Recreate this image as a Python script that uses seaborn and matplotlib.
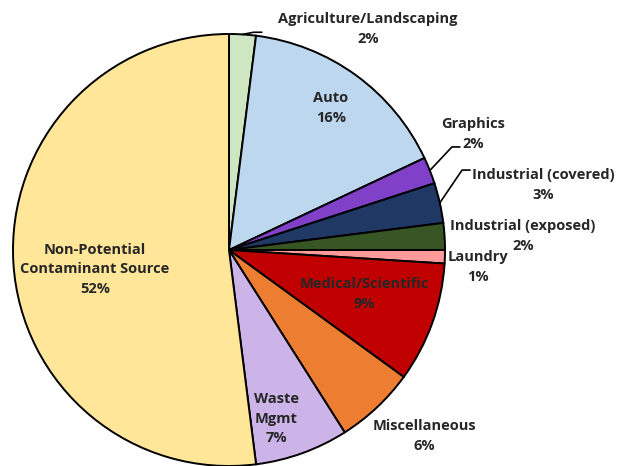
import matplotlib
matplotlib.use("Agg")
import matplotlib.pyplot as plt
import numpy as np
import seaborn as sns

categories = [
    "Agriculture/Landscaping", "Auto", "Graphics", "Industrial (covered)",
    "Industrial (exposed)", "Laundry", "Medical/Scientific", "Miscellaneous",
    "Waste\nMgmt", "Non-Potential\nContaminant Source",
]
shares = [2, 16, 2, 3, 2, 1, 9, 6, 7, 52]
colors = [
    "#cfe6c2", "#bdd7ee", "#8040c8", "#1f3864", "#375623",
    "#ff9a9a", "#c00000", "#ed7d31", "#ccb3e8", "#ffe699",
]

# label centres (pie radius = 1) and whether a leader line is drawn
label_pos = [
    (0.644, 1.023), (0.472, 0.657), (1.130, 0.537), (1.454, 0.301),
    (1.361, 0.065), (1.153, -0.079), (0.625, -0.204), (0.903, -0.861),
    (0.218, -0.782), (-0.620, -0.088),
]
leaders = {
    0: [(0.113, 1.008), (0.152, 1.008)],
    2: [(1.032, 0.477), (1.069, 0.477)],
    3: [(1.079, 0.370), (1.116, 0.370)],
}

sns.set_theme(style="white")
plt.rcParams["font.family"] = ["Open Sans", "DejaVu Sans"]

fig = plt.figure(figsize=(6.18, 4.66), dpi=100)
ax = fig.add_axes([0, 0, 1, 1])
wedges, _ = ax.pie(
    shares, colors=colors, startangle=90, counterclock=False,
    wedgeprops=dict(edgecolor="black", linewidth=1.4),
)
ax.set_xlim(-229 / 216, (618 - 229) / 216)
ax.set_ylim((250 - 466) / 216, 250 / 216)
ax.set_aspect("equal")
ax.axis("off")

for i, (w, name, val) in enumerate(zip(wedges, categories, shares)):
    x, y = label_pos[i]
    ax.text(x, y, f"{name}\n{val}%", ha="center", va="center",
            fontsize=10.5, fontweight="bold", color="#262626",
            linespacing=1.5)
    if i in leaders:
        mid = np.deg2rad((w.theta1 + w.theta2) / 2)
        pts = [(np.cos(mid), np.sin(mid))] + leaders[i]
        xs, ys = zip(*pts)
        ax.plot(xs, ys, color="black", linewidth=1.2)

fig.savefig("out.png", dpi=100)
